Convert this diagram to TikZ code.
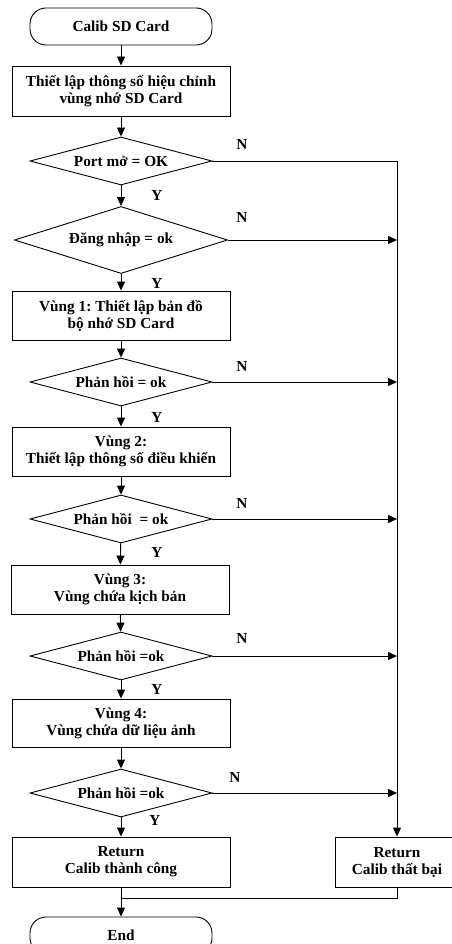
\documentclass[tikz,border=0pt]{standalone}
\usepackage{fontspec}
\setmainfont{Liberation Serif}
\usetikzlibrary{shapes.geometric,arrows.meta}
\frenchspacing

\begin{document}
\begin{tikzpicture}[x=1pt,y=1pt,
  line width=0.9pt,
  every node/.style={font=\fontsize{15.3}{17}\selectfont\bfseries, align=center},
  term/.style={draw, rounded corners=16pt, minimum width=182pt, minimum height=37pt, inner sep=0pt},
  proc/.style={draw, minimum width=218pt, minimum height=49pt, inner sep=0pt},
  dec/.style={draw, diamond, shape aspect=3.79, minimum width=182pt, minimum height=48pt, inner sep=0pt},
  lbl/.style={inner sep=0pt},
  arr/.style={-{Triangle[length=9pt,width=8pt]}}
]
\useasboundingbox (0,0) rectangle (451,-944);

% main column
\node[term] (start) at (121,-26.5) {Calib SD Card};
\node[proc, minimum height=50pt] (setup) at (121,-91) {Thiết lập thông số hiệu chỉnh\\vùng nhớ SD Card};
\node[dec] (d1) at (121,-161) {Port mở = OK};
\node[dec, shape aspect=3.18, minimum width=213pt, minimum height=67pt] (d2) at (121,-240) {Đăng nhập = ok};
\node[proc] (z1) at (121,-315.5) {Vùng 1: Thiết lập bản đồ\\bộ nhớ SD Card};
\node[dec] (d3) at (121,-382) {Phản hồi = ok};
\node[proc] (z2) at (121,-451.5) {Vùng 2:\\Thiết lập thông số điều khiển};
\node[dec] (d4) at (121,-519) {Phản hồi\hspace{4pt} = ok};
\node[proc] (z3) at (120,-589.5) {Vùng 3:\\Vùng chứa kịch bản};
\node[dec] (d5) at (121,-656) {Phản hồi =ok};
\node[proc, minimum height=48pt] (z4) at (121,-723) {Vùng 4:\\Vùng chứa dữ liệu ảnh};
\node[dec] (d6) at (121,-793) {Phản hồi =ok};
\node[proc, minimum height=50pt] (ok) at (121,-862) {Return\\Calib thành công};
\node[proc, minimum width=124pt, minimum height=50pt] (fail) at (397,-862) {Return\\Calib thất bại};
\node[term] (finish) at (121,-935.5) {End};
\coordinate (merge) at (121,-898.5);

% yes branch
\draw[arr] (start) -- (setup);
\draw[arr] (setup) -- (d1);
\draw[arr] (d1) -- (d2);
\draw[arr] (d2) -- (z1);
\draw[arr] (z1) -- (d3);
\draw[arr] (d3) -- (z2);
\draw[arr] (z2) -- (d4);
\draw[arr] (d4) -- (z3);
\draw[arr] (z3) -- (d5);
\draw[arr] (d5) -- (z4);
\draw[arr] (z4) -- (d6);
\draw[arr] (d6) -- (ok);
\draw[arr] (ok) -- (finish);
\draw (fail.south) |- (merge);

% no branch
\draw[arr] (d1.east) -- (d1.east -| fail.north) -- (fail.north);
\draw[arr] (d2.east) -- (d2.east -| fail.north);
\draw[arr] (d3.east) -- (d3.east -| fail.north);
\draw[arr] (d4.east) -- (d4.east -| fail.north);
\draw[arr] (d5.east) -- (d5.east -| fail.north);
\draw[arr] (d6.east) -- (d6.east -| fail.north);

% branch labels
\node[lbl] (n1) at (242,-144) {N};
\node[lbl] (y1) at (157,-195) {Y};
\node[lbl] (n2) at (242,-217) {N};
\node[lbl] (y2) at (157,-283) {Y};
\node[lbl] (n3) at (242,-366) {N};
\node[lbl] (y3) at (157,-417) {Y};
\node[lbl] (n4) at (242,-503) {N};
\node[lbl] (y4) at (157,-552) {Y};
\node[lbl] (n5) at (242,-638) {N};
\node[lbl] (y5) at (157,-689) {Y};
\node[lbl] (n6) at (235,-777) {N};
\node[lbl] (y6) at (155,-820) {Y};
\end{tikzpicture}
\end{document}
